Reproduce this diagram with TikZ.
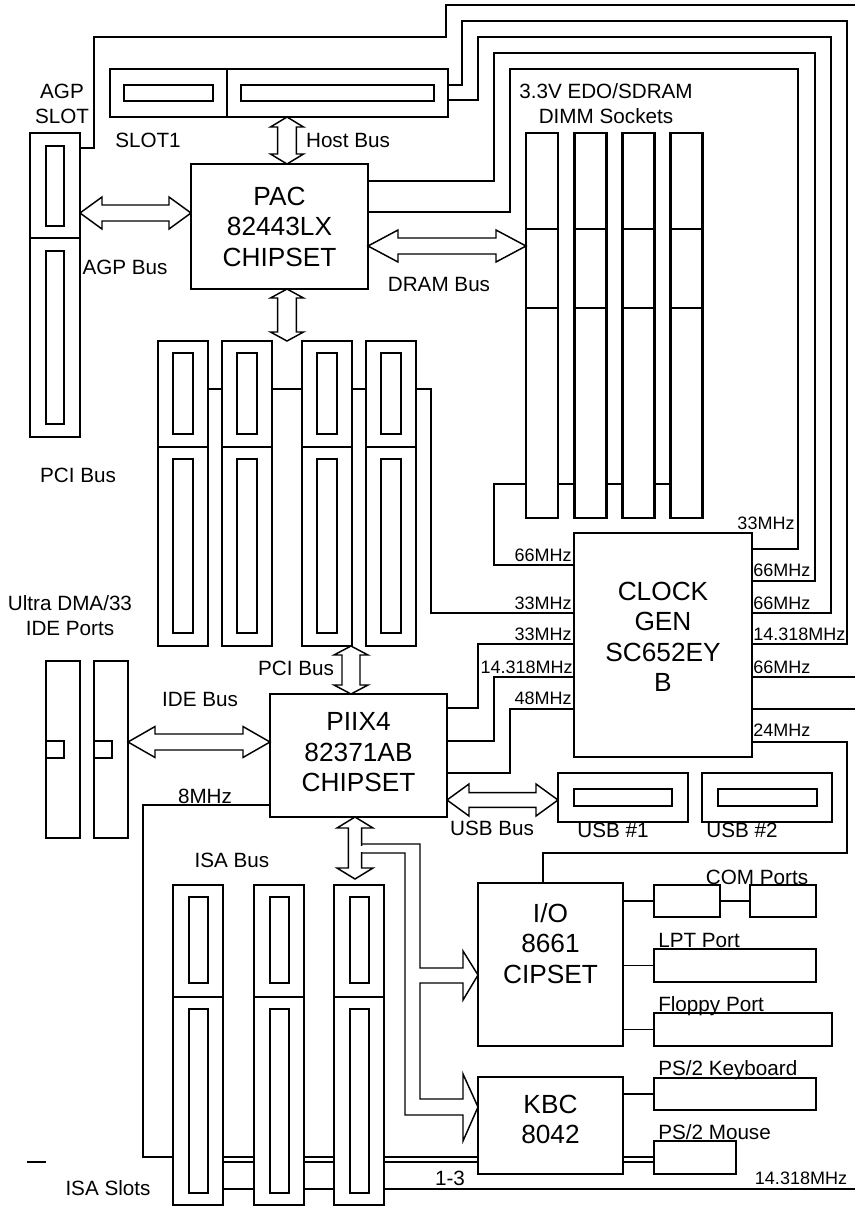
\documentclass[tikz,border=0pt]{standalone}
\usepackage{fontspec}
\setmainfont{Liberation Sans}
\usetikzlibrary{calc}
\usetikzlibrary{backgrounds}

\tikzset{
  sz/.style 2 args={minimum width=#1*0.75pt,minimum height=#2*0.75pt},
  vbus/.style n args={3}{draw=black,line width=1.1pt,fill=white,to path={
    let \p1=(\tikztostart), \p2=(\tikztotarget) in
    (\x1,\y1) -- (\x1+#1,\y1-#3) -- (\x1+#2,\y1-#3) -- (\x1+#2,\y2+#3)
    -- (\x1+#1,\y2+#3) -- (\x1,\y2) -- (\x1-#1,\y2+#3) -- (\x1-#2,\y2+#3)
    -- (\x1-#2,\y1-#3) -- (\x1-#1,\y1-#3) -- cycle}},
  hbus/.style n args={3}{draw=black,line width=1.1pt,fill=white,to path={
    let \p1=(\tikztostart), \p2=(\tikztotarget) in
    (\x1,\y1) -- (\x1+#3,\y1+#1) -- (\x1+#3,\y1+#2) -- (\x2-#3,\y1+#2)
    -- (\x2-#3,\y1+#1) -- (\x2,\y1) -- (\x2-#3,\y1-#1) -- (\x2-#3,\y1-#2)
    -- (\x1+#3,\y1-#2) -- (\x1+#3,\y1-#1) -- cycle}}
}

\begin{document}
\begin{tikzpicture}[x=0.75pt,y=-0.75pt]
    \tikzstyle{wire}=[draw=black,line width=0.8pt]
    \tikzstyle{buswire}=[draw=black,line width=1.1pt]
    \tikzstyle{thk}=[draw=black,line width=2.2pt]
    \tikzstyle{box}=[rectangle,draw=black,line width=2.2pt,fill=white,inner sep=0pt,outer sep=0pt]
    \tikzstyle{chiptext}=[font=\fontsize{19.7}{22.9}\selectfont,align=center,inner sep=0pt]
    \tikzstyle{lbl}=[font=\fontsize{15.5}{18.8}\selectfont,inner sep=0pt,text height=11.1pt,text depth=0pt]
    \tikzstyle{lbltwo}=[font=\fontsize{15.5}{18.75}\selectfont,align=center,inner sep=0pt]
    \tikzstyle{mhz}=[font=\fontsize{13.5}{16}\selectfont,inner sep=0pt,text height=9.7pt,text depth=0pt]

    \useasboundingbox (0,0) rectangle (855,1208);

    % slots and chips
    \node[box,sz={50}{304}] (agp) at (55,285) {};
    \draw[thk] (agp.west |- 0,238) -- (agp.east |- 0,238);
    \draw[thk] (46,146) rectangle (64,226);
    \draw[thk] (46,251) rectangle (64,424);

    \node[box,sz={338}{48}] (slot1) at (279,93) {};
    \draw[thk] (227,0 |- slot1.north) -- (227,0 |- slot1.south);
    \draw[thk] (124,85) rectangle (213,101);
    \draw[thk] (241,85) rectangle (434,101);

    \node[box,sz={177}{125}] (pac) at (279.5,226.5) {};
    \node[chiptext] at (pac.center) {PAC\\82443LX\\CHIPSET};

    \foreach \i in {1,...,4} {
        \node[box,sz={32}{385}] (dimm\i) at (542+48.3*\i-48.3,325.5) {};
        \draw[thk] (dimm\i.west |- 0,229) -- (dimm\i.east |- 0,229);
        \draw[thk] (dimm\i.west |- 0,308) -- (dimm\i.east |- 0,308);
    }

    \foreach \sx [count=\i] in {158,222,302,366} {
        \node[box,sz={50}{305}] (pci\i) at (\sx+25,493.5) {};
        \draw[thk] (pci\i.west |- 0,447) -- (pci\i.east |- 0,447);
        \draw[thk] (\sx+15,353) rectangle (\sx+35,434);
        \draw[thk] (\sx+15,459) rectangle (\sx+35,633);
    }

    \node[box,sz={178}{224}] (clock) at (663,645) {};
    \node[chiptext] at ($(clock.center)+(0,-8)$) {CLOCK\\GEN\\SC652EY\\B};

    \node[box,sz={177}{123}] (piix) at (358.5,755.5) {};
    \node[chiptext] at ($(piix.center)+(0,-3)$) {PIIX4\\82371AB\\CHIPSET};

    \node[box,sz={34}{177}] (ide1) at (63,749.5) {};
    \node[box,sz={34}{177}] (ide2) at (111,749.5) {};
    \draw[thk] (46,741) rectangle (64,758);
    \draw[thk] (94,741) rectangle (112,758);

    \node[box,sz={130}{49}] (usb1) at (623,797.5) {};
    \node[box,sz={130}{49}] (usb2) at (767,797.5) {};
    \draw[thk] (574,789) rectangle (672,806);
    \draw[thk] (718,789) rectangle (817,806);

    \foreach \sx [count=\i] in {173,254,334} {
        \node[box,sz={50}{320}] (isa\i) at (\sx+25,1045) {};
        \draw[thk] (isa\i.west |- 0,997) -- (isa\i.east |- 0,997);
        \draw[thk] (\sx+16,897) rectangle (\sx+35,983);
        \draw[thk] (\sx+16,1009) rectangle (\sx+35,1193);
    }

    \node[box,sz={145}{163}] (io) at (550.5,964.5) {};
    \node[chiptext] at ($(io.center)+(0,-21)$) {I/O\\8661\\CIPSET};
    \node[box,sz={145}{97}] (kbc) at (550.5,1125.5) {};
    \node[chiptext] at ($(kbc.center)+(0,-6)$) {KBC\\8042};

    \node[box,sz={66}{32}] (com1) at (687,901) {};
    \node[box,sz={66}{32}] (com2) at (783,901) {};
    \node[box,sz={162}{33}] (lpt) at (735,965.5) {};
    \node[box,sz={178}{33}] (fdd) at (743,1029.5) {};
    \node[box,sz={162}{32}] (kbd) at (735,1094) {};
    \node[box,sz={82}{33}] (mouse) at (695,1157.5) {};

    % clock and signal lines
    \begin{scope}[on background layer]
        \draw[wire] (agp.east |- 0,148) -| (94,37) -| (446,5) -- (855,5);
        \draw[wire] (slot1.east |- 0,85) -| (462,21) -| (847,644) -- (clock.east |- 0,644);
        \draw[wire] (slot1.east |- 0,100) -| (478,37) -| (831,613) -- (clock.east |- 0,613);
        \draw[wire] (pac.east |- 0,181) -| (494,53) -| (815,581) -- (clock.east |- 0,581);
        \draw[wire] (pac.east |- 0,212) -| (510,69) -| (798,549) -- (clock.east |- 0,549);
        \draw[wire] (clock.east |- 0,677) -- (855,677);
        \draw[wire] (clock.east |- 0,709) -- (855,709);
        \draw[wire] (clock.east |- 0,742) -| (847,853) -| (543,0 |- io.north);

        \draw[wire] (dimm4.west |- 0,484) -| (494,565) -- (clock.west |- 0,565);
        \draw[wire] (pci1.east |- 0,389) -| (431,613) -- (clock.west |- 0,613);
        \draw[wire] (piix.east |- 0,708) -| (478,644) -- (clock.west |- 0,644);
        \draw[wire] (piix.east |- 0,741) -| (494,677) -- (clock.west |- 0,677);
        \draw[wire] (piix.east |- 0,773) -| (510,709) -- (clock.west |- 0,709);

        \draw[wire] (piix.west |- 0,805) -| (143,1157) -- (kbc.west |- 0,1157);
        \draw[wire] (isa1.center |- 0,1162) -- (kbc.west |- 0,1162);
        \draw[wire] (isa1.center |- 0,1189) -- (855,1189);
        \draw[wire] (kbc.east |- 0,1157) -- (mouse.west |- 0,1157);
        \draw[wire] (kbc.east |- 0,1162) -- (mouse.west |- 0,1162);
        \draw[wire] (kbc.east |- kbd.west) -- (kbd.west);

        \draw[wire] (io.east |- com1.west) -- (com1.west);
        \draw[wire] (com1.east) -- (com2.west);
        \draw[wire] (io.east |- lpt.west) -- (lpt.west);
        \draw[wire] (io.east |- fdd.west) -- (fdd.west);
    \end{scope}
    \draw[line width=1.5pt] (27,1162) -- (46,1162);

    % buses
    \draw[vbus={12.4pt}{7.1pt}{7.5pt}] (287,0 |- slot1.south) to (287,0 |- pac.north);
    \draw[vbus={12.4pt}{7.1pt}{6.75pt}] (287,0 |- pac.south) to (287,0 |- pci1.north);
    \draw[hbus={12pt}{6pt}{16.5pt}] (agp.east |- 0,213) to (pac.west |- 0,213);
    \draw[hbus={12pt}{6pt}{22.5pt}] (pac.east |- 0,246) to (dimm1.west |- 0,246);
    \draw[vbus={12.75pt}{6.75pt}{6.75pt}] (351,0 |- pci1.south) to (351,0 |- piix.north);
    \draw[hbus={11.6pt}{6pt}{20.25pt}] (ide2.east |- 0,742) to (piix.west |- 0,742);
    \draw[hbus={12pt}{5.6pt}{16.5pt}] (piix.east |- 0,800) to (usb1.west |- 0,800);
    \draw[vbus={13.5pt}{4.9pt}{8.25pt}] (355,0 |- piix.south) to (355,879);
    \fill[white] (358.5,845.5) rectangle (364.5,851.5);
    \draw[buswire] (361.5,844) -- (420,844) -- (420,968) -- (463,968) -- (463,951)
        -- (io.west |- 0,975) -- (463,1000) -- (463,983) -- (420,983) -- (420,1099)
        -- (463,1099) -- (463,1074) -- (kbc.west |- 0,1107) -- (463,1141)
        -- (463,1115) -- (405,1115) -- (405,853) -- (361.5,853);

    % labels
    \node[lbltwo] at (62,104) {AGP\\SLOT};
    \node[lbl] at (148,140) {SLOT1};
    \node[lbl] at (348,140) {Host Bus};
    \node[lbl] at (125,267) {AGP Bus};
    \node[lbl] at (439,284) {DRAM Bus};
    \node[lbltwo] at (606,104) {3.3V EDO/SDRAM\\DIMM Sockets};
    \node[lbl] at (78,475) {PCI Bus};
    \node[lbltwo] at (70,616) {Ultra DMA/33\\IDE Ports};
    \node[lbl] at (296,668) {PCI Bus};
    \node[lbl] at (200,699) {IDE Bus};
    \node[lbl] at (205,796) {8MHz};
    \node[lbl] at (232,860) {ISA Bus};
    \node[lbl] at (492,828) {USB Bus};
    \node[lbl] at (613,830) {USB \#1};
    \node[lbl] at (742,830) {USB \#2};
    \node[lbl] at (757,877) {COM Ports};
    \node[lbl,anchor=west] at (658,940) {LPT Port};
    \node[lbl,anchor=west] at (658,1004) {Floppy Port};
    \node[lbl,anchor=west] at (658,1068) {PS/2 Keyboard};
    \node[lbl,anchor=west] at (658,1132) {PS/2 Mouse};
    \node[lbl] at (108,1188) {ISA Slots};
    \node[lbl] at (450,1178) {1-3};
    \node[mhz] at (801,1178) {14.318MHz};

    \node[mhz,anchor=east] at (572,555) {66MHz};
    \node[mhz,anchor=east] at (572,603) {33MHz};
    \node[mhz,anchor=east] at (572,634) {33MHz};
    \node[mhz,anchor=east] at (573,667) {14.318MHz};
    \node[mhz,anchor=east] at (572,698) {48MHz};

    \node[mhz] at (766,523) {33MHz};
    \node[mhz,anchor=west] at (753,570) {66MHz};
    \node[mhz,anchor=west] at (753,603) {66MHz};
    \node[mhz,anchor=west] at (753,634) {14.318MHz};
    \node[mhz,anchor=west] at (753,667) {66MHz};
    \node[mhz,anchor=west] at (753,730) {24MHz};
\end{tikzpicture}
\end{document}
